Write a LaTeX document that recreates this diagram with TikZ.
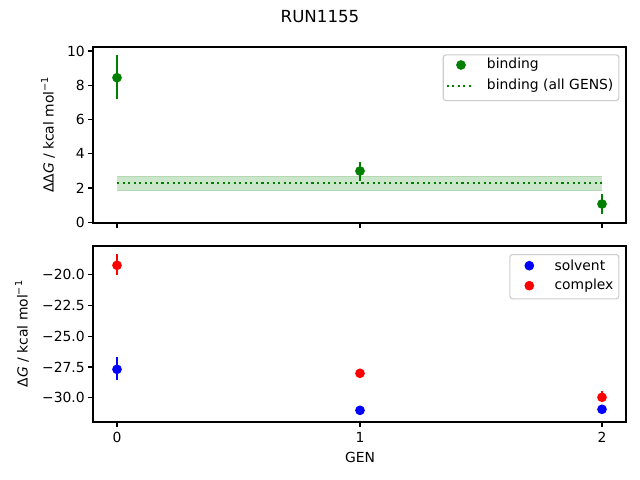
\documentclass[tikz,border=0pt]{standalone}
\usepackage{fontspec}
\setmainfont{DejaVu Sans}
\begin{document}
\begin{tikzpicture}[x=0.72pt,y=-0.72pt]
\definecolor{mgreen}{RGB}{0,128,0}
\definecolor{band}{RGB}{204,230,204}
\definecolor{bandedge}{RGB}{178,217,178}
\definecolor{legedge}{RGB}{204,204,204}
\tikzset{
  axisbox/.style={draw=black,line width=0.8pt},
  tickmark/.style={draw=black,line width=0.8pt},
  ticklab/.style={font=\fontsize{10}{12}\selectfont,inner sep=0pt},
  errbar/.style={line width=1.5pt},
  dot/.style={circle,inner sep=0pt,minimum size=7pt},
  legbox/.style={draw=legedge,fill=white,rounded corners=2pt,line width=0.8pt},
  legtext/.style={font=\fontsize{10}{12}\selectfont,anchor=west,inner sep=0pt}
}
\useasboundingbox (0,0) rectangle (640,480);
\fill[white] (0,0) rectangle (640,480);
% title
\node[font=\fontsize{12}{14}\selectfont] (title) at (320,17) {RUN1155};

% ===== top axes =====
\coordinate (tA) at (93,47);
\coordinate (tB) at (626,223);
% band
\fill[band] (117,176) rectangle (602,190);
\draw[bandedge,line width=0.6pt] (117,176) -- (602,176) (117,190) -- (602,190);
\draw[mgreen,line width=1.5pt,dash pattern=on 1.5pt off 2.5pt] (117,183.3) -- (602,183.3);
% error bars & points
\draw[mgreen,errbar] (117,55) -- (117,99.3);
\draw[mgreen,errbar] (360,162.3) -- (360,180.7);
\draw[mgreen,errbar] (602,194) -- (602,214.3);
\node[dot,fill=mgreen] (g0) at (117,77.7) {};
\node[dot,fill=mgreen] (g1) at (360,171) {};
\node[dot,fill=mgreen] (g2) at (602,204) {};
\draw[axisbox] (tA) rectangle (tB);
% y ticks
\foreach \v/\yy in {0/222.3,2/188.0,4/153.8,6/119.5,8/85.3,10/51} {
  \draw[tickmark] (93,\yy) -- (88.1,\yy);
  \node[ticklab,anchor=east] at (85,\yy) {\v};
}
% x ticks (no labels)
\foreach \xx in {117,360,602} { \draw[tickmark] (\xx,223) -- (\xx,227.9); }
\node[font=\fontsize{10}{12}\selectfont,rotate=90] (ylabtop) at (48,135) {ΔΔ\textit{G} / kcal mol\raisebox{0.75ex}{\fontsize{7}{8}\selectfont −1}};
% legend top
\node[legbox,minimum width=175.6*0.72pt,minimum height=45.7*0.72pt,anchor=north west,inner sep=0pt] (legtop) at (442.7,54.3) {};
\node[dot,fill=mgreen] (lg1) at (461,65) {};
\node[legtext] (lt1) at (486.7,65) {binding};
\draw[mgreen,line width=1.5pt,dash pattern=on 1.5pt off 2.5pt] (446.7,86) -- (473.3,86);
\node[legtext] (lt2) at (486.7,86) {binding (all GENS)};

% ===== bottom axes =====
\coordinate (bA) at (93,246);
\coordinate (bB) at (626,422);
\draw[red,errbar] (117,254) -- (117,275.3);
\draw[blue,errbar] (117,357.3) -- (117,380.3);
\draw[red,errbar] (360,370.5) -- (360,376);
\draw[red,errbar] (602,390.7) -- (602,402);
\node[dot,fill=red] (r0) at (117,265.3) {};
\node[dot,fill=blue] (b0) at (117,369.3) {};
\node[dot,fill=red] (r1) at (360,373.3) {};
\node[dot,fill=blue] (b1) at (360,410.3) {};
\node[dot,fill=red] (r2) at (602,397.3) {};
\node[dot,fill=blue] (b2) at (602,409.3) {};
\draw[axisbox] (bA) rectangle (bB);
\foreach \v/\yy in {−20.0/274.4,−22.5/305.25,−25.0/336.1,−27.5/366.95,−30.0/397.8} {
  \draw[tickmark] (93,\yy) -- (88.1,\yy);
  \node[ticklab,anchor=east] at (85,\yy) {\v};
}
\foreach \xx/\l in {117/0,360/1,602/2} {
  \draw[tickmark] (\xx,422) -- (\xx,426.9);
  \node[ticklab,anchor=north] at (\xx,432) {\l};
}
\node[font=\fontsize{10}{12}\selectfont] (xlab) at (360,457) {GEN};
\node[font=\fontsize{10}{12}\selectfont,rotate=90] (ylabbot) at (22,334) {Δ\textit{G} / kcal mol\raisebox{0.75ex}{\fontsize{7}{8}\selectfont −1}};
% legend bottom
\node[legbox,minimum width=109*0.72pt,minimum height=44.3*0.72pt,anchor=north west,inner sep=0pt] (legbot) at (509.3,254) {};
\node[dot,fill=blue] (lb1) at (529.3,265.7) {};
\node[legtext] (ls1) at (554.3,265.7) {solvent};
\node[dot,fill=red] (lb2) at (529.3,285.7) {};
\node[legtext] (ls2) at (554.3,285.7) {complex};
\end{tikzpicture}
\end{document}
